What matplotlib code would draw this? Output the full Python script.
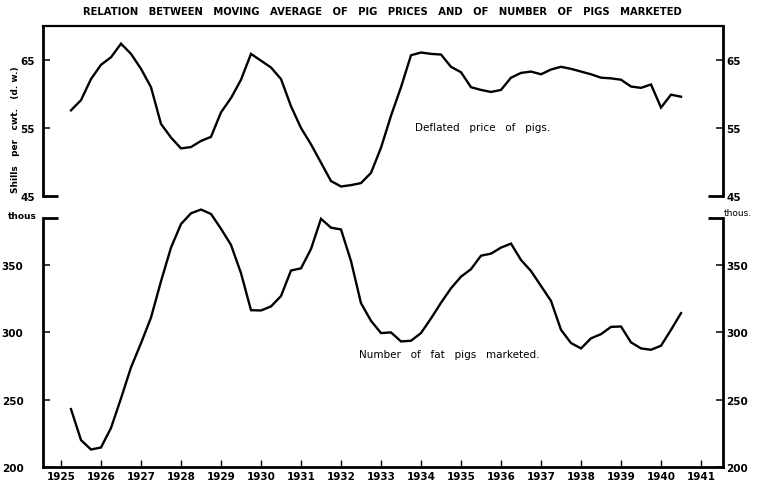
import matplotlib
matplotlib.use('Agg')
import matplotlib.pyplot as plt

plt.rcParams['font.family'] = ['Liberation Sans Narrow', 'DejaVu Sans']

# quarterly dates (year fractions)
dates = [1925.25, 1925.5, 1925.75,
         1926.0, 1926.25, 1926.5, 1926.75,
         1927.0, 1927.25, 1927.5, 1927.75,
         1928.0, 1928.25, 1928.5, 1928.75,
         1929.0, 1929.25, 1929.5, 1929.75,
         1930.0, 1930.25, 1930.5, 1930.75,
         1931.0, 1931.25, 1931.5, 1931.75,
         1932.0, 1932.25, 1932.5, 1932.75,
         1933.0, 1933.25, 1933.5, 1933.75,
         1934.0, 1934.25, 1934.5, 1934.75,
         1935.0, 1935.25, 1935.5, 1935.75,
         1936.0, 1936.25, 1936.5, 1936.75,
         1937.0, 1937.25, 1937.5, 1937.75,
         1938.0, 1938.25, 1938.5, 1938.75,
         1939.0, 1939.25, 1939.5, 1939.75,
         1940.0, 1940.25, 1940.5]

# deflated price of pigs, shillings per cwt (d.w.)
price = [57.6, 59.1, 62.2,
         64.3, 65.4, 67.4, 65.9,
         63.7, 61.0, 55.6, 53.6,
         52.0, 52.2, 53.1, 53.7,
         57.3, 59.4, 62.1, 65.9,
         64.9, 63.9, 62.2, 58.2,
         55.0, 52.6, 49.9, 47.2,
         46.4, 46.6, 46.9, 48.4,
         52.1, 56.8, 61.0, 65.7,
         66.1, 65.9, 65.8, 64.0,
         63.2, 61.0, 60.6, 60.3,
         60.6, 62.4, 63.1, 63.3,
         62.9, 63.6, 64.0, 63.7,
         63.3, 62.9, 62.4, 62.3,
         62.1, 61.1, 60.9, 61.4,
         58.0, 59.9, 59.6]

# number of fat pigs marketed, thousands
pigs = [243, 220, 213,
        214.5, 229, 251, 274,
        292, 311, 338, 363,
        380.5, 388.5, 391.3, 388,
        377, 365, 344, 316.5,
        316.3, 319.3, 327, 346,
        347.6, 362, 384.4, 377.8,
        376.5, 353, 321.7, 308.6,
        299.5, 300, 293.3, 293.8,
        299.5, 310.4, 322, 332.8,
        341.4, 347, 357, 358.5,
        363, 366, 353.8, 345.6,
        334.5, 323.4, 301.9, 292.1,
        288.1, 295.6, 298.7, 304.1,
        304.4, 292.6, 288.1, 287.1,
        290.1, 301.9, 314.3]

year_ticks = list(range(1925, 1942))
price_ticks = [45, 55, 65]
price_labels = ['45', '55', '65']
pigs_ticks = [200, 250, 300, 350, 385]
pigs_labels = ['200', '250', '300', '350', '']

title = "RELATION   BETWEEN   MOVING   AVERAGE   OF   PIG   PRICES   AND   OF   NUMBER   OF   PIGS   MARKETED"

W, H = 758, 489
fig = plt.figure(figsize=(W / 100, H / 100), dpi=100)

L, R = 43, 723
ax1 = fig.add_axes([L / W, 1 - 197 / H, (R - L) / W, (197 - 27) / H])
ax2 = fig.add_axes([L / W, 1 - 468 / H, (R - L) / W, (468 - 219) / H])

xlim = (1924.55, 1941.55)


def style_y(ax, ticks, labels, ylim, long_idx, side, pad):
    ax.set_ylim(*ylim)
    ax.set_yticks(ticks)
    ax.set_yticklabels(labels)
    if side == 'left':
        ax.tick_params(axis='y', direction='in', length=5, width=1.1, labelsize=7.5,
                       left=True, right=False, labelleft=True, labelright=False, pad=pad)
    else:
        ax.tick_params(axis='y', direction='in', length=5, width=1.1, labelsize=7.5,
                       left=False, right=True, labelleft=False, labelright=True, pad=pad)
    t = ax.yaxis.get_major_ticks()[long_idx]
    for ln in (t.tick1line, t.tick2line):
        ln.set_markersize(11)
        ln.set_markeredgewidth(2)
    for lab in ax.get_yticklabels():
        lab.set_fontweight('bold')


# --- top panel: prices
ax1.plot(dates, price, color='black', lw=1.7, solid_joinstyle='miter')
ax1.set_xlim(*xlim)
ax1.spines['bottom'].set_visible(False)
ax1.spines['right'].set_visible(False)
ax1.spines['left'].set_linewidth(2.0)
ax1.spines['top'].set_linewidth(1.6)
ax1.set_xticks([])
style_y(ax1, price_ticks, price_labels, (45, 70), 0, 'left', 6)

ax1r = ax1.twinx()
for s in ['top', 'left', 'bottom']:
    ax1r.spines[s].set_visible(False)
ax1r.spines['right'].set_linewidth(2.0)
style_y(ax1r, price_ticks, price_labels, (45, 70), 0, 'right', 2.5)

ax1.text(0.647, 0.406, "Deflated   price   of   pigs.", transform=ax1.transAxes,
         fontsize=7.5, family='DejaVu Sans', ha='center', va='center')
fig.text(15 / W, 1 - 130 / H, "Shills   per   cwt.   (d. w.)", rotation=90,
         ha='center', va='center', fontsize=6.5, family='DejaVu Sans', fontweight='bold')

# --- bottom panel: numbers
ax2.plot(dates, pigs, color='black', lw=1.7, clip_on=False, solid_joinstyle='miter')
ax2.set_xlim(*xlim)
ax2.spines['top'].set_visible(False)
ax2.spines['right'].set_visible(False)
ax2.spines['left'].set_linewidth(2.0)
ax2.spines['bottom'].set_linewidth(2.0)
style_y(ax2, pigs_ticks, pigs_labels, (200, 385), -1, 'left', 14)
ax2.set_xticks(year_ticks)
ax2.set_xticklabels([str(y) for y in year_ticks])
ax2.tick_params(axis='x', direction='in', length=5, width=1.0, labelsize=7.5, pad=3)
for lab in ax2.get_xticklabels():
    lab.set_fontweight('bold')

ax2r = ax2.twinx()
for s in ['top', 'left', 'bottom']:
    ax2r.spines[s].set_visible(False)
ax2r.spines['right'].set_linewidth(2.0)
style_y(ax2r, pigs_ticks, pigs_labels, (200, 385), -1, 'right', 2.5)

ax2.text(0.597, 0.454, "Number   of   fat   pigs   marketed.", transform=ax2.transAxes,
         fontsize=7.5, family='DejaVu Sans', ha='center', va='center')
fig.text(22 / W, 1 - 217 / H, "thous", ha='center', va='center', fontsize=6.5,
         family='DejaVu Sans', fontweight='bold')
fig.text(738 / W, 1 - 214 / H, "thous.", ha='center', va='center', fontsize=6.5,
         family='DejaVu Sans')

fig.text(382 / W, 1 - 12 / H, title, ha='center', va='center', fontsize=7.2,
         family='DejaVu Sans', fontweight='bold')

fig.savefig('out.png', dpi=100)
